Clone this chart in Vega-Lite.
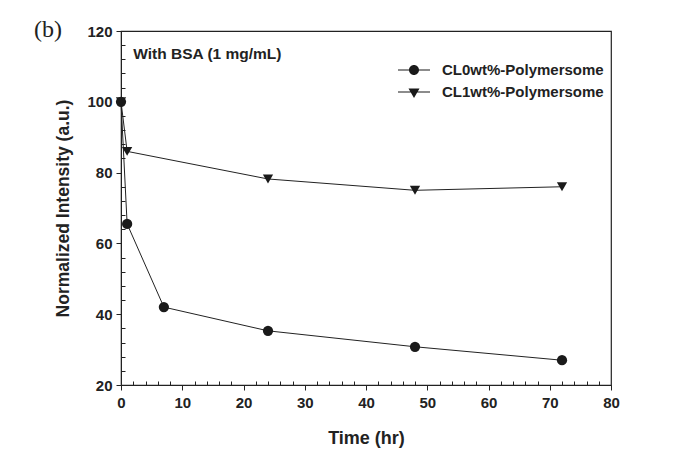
{
  "$schema": "https://vega.github.io/schema/vega-lite/v6.json",
  "width": 490,
  "height": 354,
  "autosize": {"type": "none"},
  "padding": {"left": 121, "top": 31, "right": 80, "bottom": 83},
  "background": "white",
  "title": {"text": "(b)", "anchor": "start", "frame": "group", "dx": -87, "dy": 22, "font": "Liberation Serif", "fontSize": 24, "fontWeight": "normal", "color": "#222"},
  "config": {
    "view": {"stroke": "#222", "strokeWidth": 1.2},
    "font": "Liberation Sans",
    "axis": {"domainColor": "#222", "tickColor": "#222", "labelColor": "#222", "titleColor": "#222", "labelFont": "Liberation Sans", "titleFont": "Liberation Sans", "labelFontWeight": "bold", "titleFontWeight": "bold", "labelFontSize": 15, "titleFontSize": 17.5, "grid": false}
  },
  "data": {"values": [
    {"time": 0, "intensity": 100, "series": "CL0wt%-Polymersome"},
    {"time": 1, "intensity": 65.5, "series": "CL0wt%-Polymersome"},
    {"time": 7, "intensity": 42, "series": "CL0wt%-Polymersome"},
    {"time": 24, "intensity": 35.3, "series": "CL0wt%-Polymersome"},
    {"time": 48, "intensity": 30.8, "series": "CL0wt%-Polymersome"},
    {"time": 72, "intensity": 27, "series": "CL0wt%-Polymersome"},
    {"time": 0, "intensity": 100, "series": "CL1wt%-Polymersome"},
    {"time": 1, "intensity": 86, "series": "CL1wt%-Polymersome"},
    {"time": 24, "intensity": 78.2, "series": "CL1wt%-Polymersome"},
    {"time": 48, "intensity": 75, "series": "CL1wt%-Polymersome"},
    {"time": 72, "intensity": 76, "series": "CL1wt%-Polymersome"}
  ]},
  "resolve": {"axis": {"x": "independent", "y": "independent"}, "scale": {"shape": "independent"}},
  "layer": [
    {"mark": {"type": "line", "color": "#222", "strokeWidth": 1},
      "encoding": {
        "x": {"field": "time", "type": "quantitative", "title": "Time (hr)",
          "scale": {"domain": [0, 80], "nice": false, "zero": false},
          "axis": {"orient": "bottom", "values": [0,10,20,30,40,50,60,70,80], "tickSize": 5, "labelPadding": 5, "titlePadding": 19, "titleFontSize": 18, "labelFlush": false}},
        "y": {"field": "intensity", "type": "quantitative", "title": "Normalized Intensity (a.u.)",
          "scale": {"domain": [20, 120], "nice": false, "zero": false},
          "axis": {"orient": "left", "values": [20,40,60,80,100,120], "tickSize": 5, "labelPadding": 4, "titlePadding": 14, "labelFlush": false}},
        "detail": {"field": "series"}}},
    {"mark": {"type": "point", "filled": true, "color": "#1a1a1a", "opacity": 1, "size": 105},
      "encoding": {
        "x": {"field": "time", "type": "quantitative",
          "axis": {"orient": "bottom", "values": [2,4,6,8,12,14,16,18,22,24,26,28,32,34,36,38,42,44,46,48,52,54,56,58,62,64,66,68,72,74,76,78], "tickSize": -4, "labels": false, "domain": false, "title": null}},
        "y": {"field": "intensity", "type": "quantitative",
          "axis": {"orient": "left", "values": [24,28,32,36,44,48,52,56,64,68,72,76,84,88,92,96,104,108,112,116], "tickSize": -4, "labels": false, "domain": false, "title": null}},
        "shape": {"field": "series", "type": "nominal",
          "scale": {"domain": ["CL0wt%-Polymersome", "CL1wt%-Polymersome"], "range": ["circle", "triangle-down"]},
          "legend": null}}},
    {"transform": [{"filter": "false"}],
      "mark": {"type": "point", "filled": true, "color": "#1a1a1a", "opacity": 1},
      "encoding": {
        "shape": {"field": "series", "type": "nominal",
          "scale": {"domain": ["CL0wt%-Polymersome", "CL1wt%-Polymersome"],
            "range": ["M-1.6,-0.05H1.6V0.05H-1.6ZM0.5,0A0.5,0.5 0 1 1 -0.5,0A0.5,0.5 0 1 1 0.5,0Z", "M-1.6,-0.05H1.6V0.05H-1.6ZM-0.55,-0.35L0.55,-0.35L0,0.6Z"]},
          "legend": {"title": null, "orient": "none", "legendX": 282, "legendY": 28, "labelFont": "Liberation Sans", "labelFontWeight": "bold", "labelFontSize": 15, "labelColor": "#222", "labelLimit": 300, "symbolFillColor": "#1a1a1a", "symbolOpacity": 1, "symbolSize": 400, "rowPadding": 3, "labelOffset": 17,
            "encode": {"symbols": {"update": {"fill": {"value": "#1a1a1a"}, "opacity": {"value": 1}}}}}}}},
    {"data": {"values": [{"note": "With BSA (1 mg/mL)"}]},
      "mark": {"type": "text", "font": "Liberation Sans", "fontWeight": "bold", "fontSize": 15.5, "align": "left", "baseline": "middle", "color": "#222"},
      "encoding": {"x": {"datum": 2, "axis": null}, "y": {"datum": 113.5, "axis": null}, "text": {"field": "note"}}}
  ]
}
